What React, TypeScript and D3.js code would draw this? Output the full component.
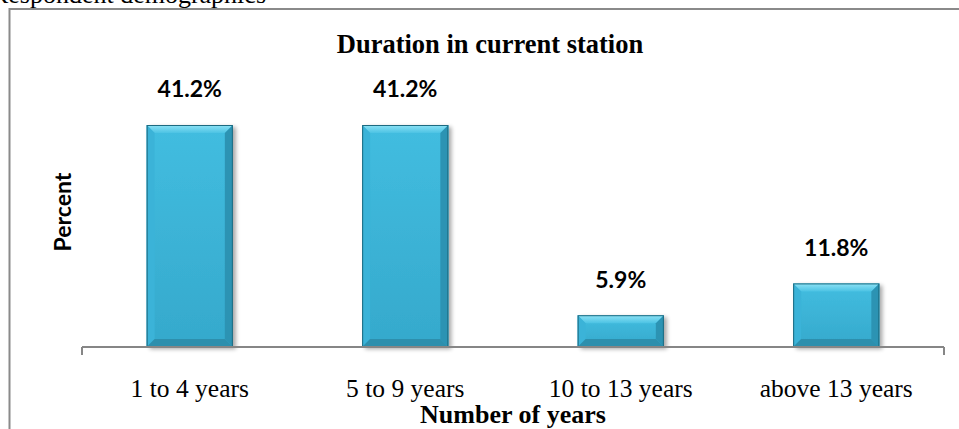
import React from "react";
import * as d3 from "d3";

const categories: string[] = ["1 to 4 years", "5 to 9 years", "10 to 13 years", "above 13 years"];
const values: number[] = [41.2, 41.2, 5.9, 11.8];
const valueLabels: string[] = ["41.2%", "41.2%", "5.9%", "11.8%"];
const chartTitle = "Duration in current station";
const xTitle = "Number of years";
const yTitle = "Percent";
const caption = "Respondent demographics";

const W = 959;
const H = 429;
const axisY = 347;
const x0 = 82;
const x1 = 944;

export default function App() {
  const x = d3.scaleBand<string>().domain(categories).range([x0, x1]).paddingInner(0.6).paddingOuter(0.3);
  const y = d3.scaleLinear().domain([0, 45]).range([axisY, axisY - 45 * (222 / 41.2)]);
  const bw = x.bandwidth();
  const bev = 8;

  return (
    <svg width={W} height={H} style={{ position: "absolute", left: 0, top: 0 }}>
      <defs>
        <linearGradient id="face" x1="0" y1="0" x2="0" y2="1">
          <stop offset="0" stopColor="#42bde0" />
          <stop offset="1" stopColor="#35a9cc" />
        </linearGradient>
        <linearGradient id="topBev" x1="0" y1="0" x2="0" y2="1">
          <stop offset="0" stopColor="#8ee2f5" />
          <stop offset="1" stopColor="#4cc3e4" />
        </linearGradient>
        <filter id="sh" x="-20%" y="-20%" width="140%" height="140%">
          <feGaussianBlur in="SourceAlpha" stdDeviation="2" />
          <feOffset dx="3" dy="2" result="b" />
          <feComponentTransfer>
            <feFuncA type="linear" slope="0.35" />
          </feComponentTransfer>
          <feMerge>
            <feMergeNode />
            <feMergeNode in="SourceGraphic" />
          </feMerge>
        </filter>
      </defs>
      <rect x={0} y={0} width={W} height={H} fill="#fff" />
      <text x={266} y={3} textAnchor="end" fontFamily="'Liberation Serif', 'Times New Roman', serif" fontSize={26} fill="#000">
        {caption}
      </text>
      <rect x={9.5} y={9} width={1100} height={600} fill="#fff" stroke="#8a8a8a" strokeWidth={2} />

      <text x={490} y={53} textAnchor="middle" fontFamily="'Liberation Serif', 'Times New Roman', serif" fontWeight="bold" fontSize={26.5} fill="#000">
        {chartTitle}
      </text>

      {categories.map((c, i) => {
        const bx = x(c)!;
        const by = y(values[i]);
        const bh = axisY - by;
        const r = bx + bw;
        const b = axisY;
        return (
          <g key={c}>
            <g filter="url(#sh)">
              <rect x={bx} y={by} width={bw} height={bh} fill="url(#face)" />
            </g>
            <polygon points={`${bx},${by} ${r},${by} ${r - bev},${by + bev} ${bx + bev},${by + bev}`} fill="url(#topBev)" />
            <polygon points={`${bx},${by} ${bx + bev},${by + bev} ${bx + bev},${b - bev} ${bx},${b}`} fill="#3bb3d8" />
            <polygon points={`${r},${by} ${r - bev},${by + bev} ${r - bev},${b - bev} ${r},${b}`} fill="#2c93b3" />
            <polygon points={`${bx},${b} ${bx + bev},${b - bev} ${r - bev},${b - bev} ${r},${b}`} fill="#2d8fad" />
            <rect x={bx + 0.5} y={by + 0.5} width={bw - 1} height={bh - 1} fill="none" stroke="#1d6a80" strokeWidth={1} />
            <text x={bx + bw / 2} y={by - 27.7} textAnchor="middle" fontFamily="Lato, 'Open Sans', sans-serif" fontWeight="bold" fontSize={23} fill="#000">
              {valueLabels[i]}
            </text>
            <text x={bx + bw / 2} y={397} textAnchor="middle" fontFamily="'Liberation Serif', 'Times New Roman', serif" fontSize={25.5} fill="#000">
              {c}
            </text>
          </g>
        );
      })}

      <line x1={x0} x2={x1} y1={axisY} y2={axisY} stroke="#868686" strokeWidth={2} />
      <line x1={x0} x2={x0} y1={axisY} y2={355} stroke="#868686" strokeWidth={2} />
      <line x1={x1} x2={x1} y1={axisY} y2={355} stroke="#868686" strokeWidth={2} />

      <text transform={`translate(71,212) rotate(-90)`} textAnchor="middle" fontFamily="Lato, 'Open Sans', sans-serif" fontWeight="bold" fontSize={23} fill="#000">
        {yTitle}
      </text>
      <text x={513} y={423} textAnchor="middle" fontFamily="'Liberation Serif', 'Times New Roman', serif" fontWeight="bold" fontSize={26} fill="#000">
        {xTitle}
      </text>
    </svg>
  );
}
